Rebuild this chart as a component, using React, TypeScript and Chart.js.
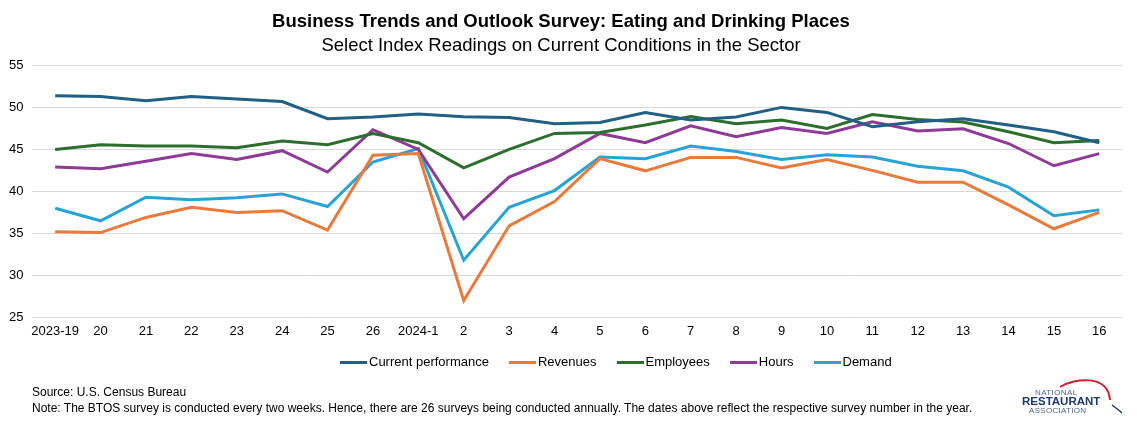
import React, { useEffect, useRef } from "react";
import { Chart, registerables } from "chart.js";

Chart.register(...registerables);

const categories = [
  "2023-19", "20", "21", "22", "23", "24", "25", "26",
  "2024-1", "2", "3", "4", "5", "6", "7", "8",
  "9", "10", "11", "12", "13", "14", "15", "16",
];

const currentPerformance = [
  51.4, 51.3, 50.8, 51.3, 51.0, 50.7, 48.65, 48.85,
  49.2, 48.9, 48.8, 48.05, 48.2, 49.4, 48.5, 48.85,
  50.0, 49.4, 47.7, 48.3, 48.65, 47.9, 47.1, 45.8,
];
const revenues = [
  35.2, 35.1, 36.9, 38.1, 37.5, 37.7, 35.4, 44.3,
  44.5, 27.0, 35.9, 38.8, 43.9, 42.45, 44.05, 44.05,
  42.8, 43.8, 42.5, 41.1, 41.1, 38.4, 35.55, 37.5,
];
const employees = [
  45.0, 45.55, 45.4, 45.4, 45.2, 46.0, 45.55, 46.9,
  45.8, 42.8, 45.0, 46.9, 47.0, 47.9, 48.9, 48.05,
  48.5, 47.5, 49.15, 48.55, 48.25, 47.1, 45.8, 46.05,
];
const hours = [
  42.9, 42.7, 43.6, 44.5, 43.8, 44.85, 42.3, 47.35,
  45.0, 36.75, 41.7, 43.9, 46.9, 45.8, 47.8, 46.5,
  47.6, 46.9, 48.3, 47.2, 47.45, 45.7, 43.05, 44.5,
];
const demand = [
  38.0, 36.5, 39.3, 39.0, 39.25, 39.7, 38.2, 43.5,
  45.1, 31.8, 38.1, 40.1, 44.1, 43.9, 45.4, 44.75,
  43.8, 44.35, 44.1, 43.0, 42.45, 40.5, 37.1, 37.8,
];

const seriesNames = ["Current performance", "Revenues", "Employees", "Hours", "Demand"];
const seriesColors = ["#215f84", "#e97a3b", "#2b6e2d", "#8e3a97", "#27a3d6"];
const seriesData = [currentPerformance, revenues, employees, hours, demand];

const titleText = "Business Trends and Outlook Survey: Eating and Drinking Places";
const subtitleText = "Select Index Readings on Current Conditions in the Sector";
const sourceText = "Source: U.S. Census Bureau";
const noteText =
  "Note: The BTOS survey is conducted every two weeks. Hence, there are 26 surveys being conducted annually. The dates above reflect the respective survey number in the year.";

const FONT = "'Liberation Sans', Arial, sans-serif";

export default function App() {
  const canvasRef = useRef<HTMLCanvasElement | null>(null);

  useEffect(() => {
    document.body.style.margin = "0";
    const ctx = canvasRef.current;
    if (!ctx) return;
    const chart = new Chart(ctx, {
      type: "line",
      data: {
        labels: categories,
        datasets: seriesNames.map((name, i) => ({
          label: name,
          data: seriesData[i],
          borderColor: seriesColors[i],
          backgroundColor: seriesColors[i],
          borderWidth: 3,
          pointRadius: 0,
          tension: 0,
          fill: false,
        })),
      },
      options: {
        responsive: false,
        animation: false,
        layout: { padding: { left: 0, right: 15, top: 4, bottom: 91 } },
        plugins: {
          title: {
            display: true,
            text: titleText,
            color: "#000",
            font: { family: FONT, size: 18.5, weight: "bold" },
            padding: { top: 7, bottom: 2 },
          },
          subtitle: {
            display: true,
            text: subtitleText,
            color: "#000",
            font: { family: FONT, size: 18.5 },
            padding: { top: 0, bottom: 8 },
          },
          legend: { display: false },
          tooltip: { enabled: false },
        },
        scales: {
          x: {
            offset: true,
            grid: { display: false },
            border: { display: false },
            ticks: {
              color: "#000",
              font: { family: FONT, size: 13 },
              maxRotation: 0,
              autoSkip: false,
              padding: -2,
            },
          },
          y: {
            min: 25,
            max: 55,
            grid: { color: "#d9d9d9", drawTicks: false, lineWidth: 1 },
            border: { display: false },
            ticks: {
              stepSize: 5,
              color: "#000",
              font: { family: FONT, size: 13 },
              padding: 9,
            },
          },
        },
      },
    });
    return () => chart.destroy();
  }, []);

  return (
    <div style={{ position: "absolute", left: 0, top: 0, width: 1137, height: 428, background: "#fff", overflow: "hidden" }}>
      <canvas ref={canvasRef} width={1137} height={428} style={{ display: "block" }} />
      <div
        style={{
          position: "absolute",
          left: 340,
          top: 354,
          display: "flex",
          alignItems: "center",
          fontFamily: FONT,
          fontSize: 13,
          color: "#000",
          whiteSpace: "nowrap",
          lineHeight: "16px",
        }}
      >
        {seriesNames.map((name, i) => (
          <div key={name} style={{ display: "flex", alignItems: "center", marginRight: 20 }}>
            <span style={{ display: "inline-block", width: 27, height: 3, background: seriesColors[i], marginRight: 2 }} />
            <span>{name}</span>
          </div>
        ))}
      </div>
      <div
        style={{
          position: "absolute",
          left: 32,
          top: 384,
          fontFamily: FONT,
          fontSize: 12,
          lineHeight: "16px",
          color: "#000",
          whiteSpace: "nowrap",
        }}
      >
        <div>{sourceText}</div>
        <div>{noteText}</div>
      </div>
      <div style={{ position: "absolute", left: 1020, top: 378, width: 110, height: 46, fontFamily: FONT }}>
        <svg width="110" height="46" style={{ position: "absolute", left: 0, top: 0 }}>
          <path d="M 40 9 C 55 0, 88 -4, 90 22" stroke="#d0202f" strokeWidth="2" fill="none" />
          <path d="M 92 27 C 96 30, 100 33, 102 35" stroke="#1b3a6b" strokeWidth="1.5" fill="none" />
        </svg>
        <div style={{ position: "absolute", left: 15, top: 10, fontSize: 8, lineHeight: "9px", color: "#4a6590", letterSpacing: 0.4 }}>NATIONAL</div>
        <div style={{ position: "absolute", left: 2, top: 17, fontSize: 11.5, lineHeight: "12px", fontWeight: "bold", color: "#1b3a6b" }}>RESTAURANT</div>
        <div style={{ position: "absolute", left: 9, top: 28, fontSize: 8, lineHeight: "9px", color: "#4a6590", letterSpacing: 0.3 }}>ASSOCIATION</div>
      </div>
    </div>
  );
}
